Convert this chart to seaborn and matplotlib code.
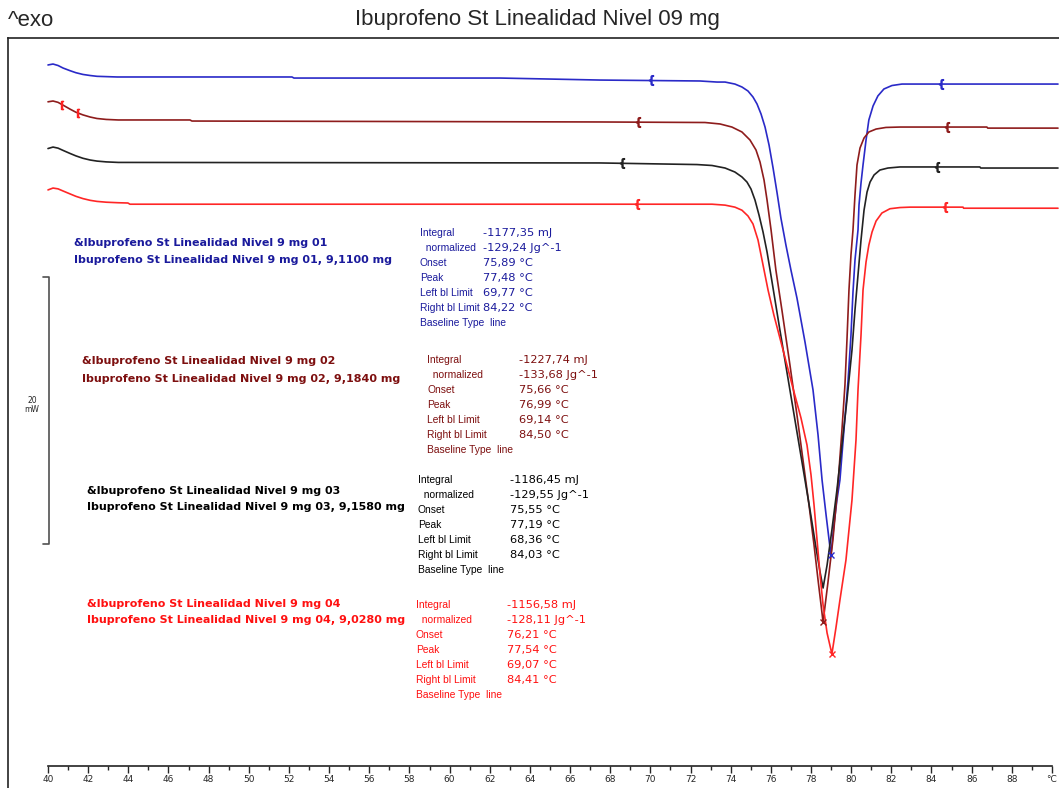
import numpy as np
import pandas as pd
import matplotlib
matplotlib.use("Agg")
import matplotlib.pyplot as plt
import seaborn as sns

# ---------------- data ----------------
# Temperature (°C) and heat flow (mW, with the instrument's display offsets)
blue_T = [40.00, 40.25, 40.50, 40.75, 41.10, 41.39, 41.74, 42.10, 42.44, 43.44, 52.15, 52.25,
          62.51, 67.49, 72.47, 73.32,
          73.72, 74.21, 74.56, 74.86, 75.11, 75.31, 75.51, 75.71, 75.91, 76.11, 76.31, 76.50,
          76.75, 77.00, 77.30, 77.70, 78.10, 78.35, 78.55, 78.75, 78.90, 78.99,
          79.14, 79.29, 79.44, 79.64, 79.84, 79.99, 80.09, 80.19, 80.34, 80.39, 80.49, 80.59,
          80.74, 80.88, 81.09, 81.33, 81.63, 82.03, 82.53, 90.30]
blue_mW = [54.16, 54.23, 54.12, 53.93, 53.73, 53.58, 53.45, 53.37, 53.31, 53.26, 53.26, 53.18,
           53.18, 53.03, 52.96, 52.88,
           52.88, 52.73, 52.51, 52.21, 51.76, 51.24, 50.49, 49.51, 48.16, 46.44, 44.57, 42.70,
           40.67, 38.80, 36.70, 33.41, 29.81, 26.44, 23.07, 20.45, 18.58, 17.45,
           19.70, 21.57, 23.07, 26.82, 30.41, 33.93, 37.15, 39.55, 41.80, 43.67, 45.32, 46.67,
           48.54, 50.04, 51.09, 51.84, 52.36, 52.62, 52.73, 52.73]

dred_T = [40.00, 40.25, 40.50, 40.75, 41.10, 41.39, 41.74, 42.10, 42.44, 42.90, 43.50, 47.07,
          47.17, 67.49, 72.72,
          73.47, 74.06, 74.56, 74.96, 75.26, 75.46, 75.66, 75.81, 76.01, 76.25, 76.55, 76.95,
          77.30, 77.60, 77.90, 78.15, 78.35, 78.50, 78.60,
          78.84, 79.09, 79.34, 79.54, 79.69, 79.79, 79.89, 79.99, 80.09, 80.19, 80.29, 80.44,
          80.64, 80.88, 81.24, 81.73, 82.43, 86.76, 86.80, 90.30]
dred_mW = [51.40, 51.46, 51.36, 51.15, 50.85, 50.62, 50.42, 50.26, 50.15, 50.08, 50.04, 50.04,
           49.96, 49.89, 49.85,
           49.74, 49.51, 49.14, 48.54, 47.79, 46.89, 45.54, 44.04, 41.80, 38.80, 35.81, 31.69,
           27.94, 24.57, 21.20, 18.20, 15.58, 13.71, 12.43,
           15.36, 18.58, 22.70, 26.82, 30.19, 33.56, 37.30, 39.93, 41.80, 44.42, 46.67, 47.94,
           48.69, 49.14, 49.36, 49.48, 49.51, 49.51, 49.43, 49.43]

black_T = [40.00, 40.25, 40.50, 40.75, 41.10, 41.39, 41.74, 42.10, 42.44, 42.90, 43.50, 67.49,
           72.32,
           73.07, 73.72, 74.21, 74.56, 74.81, 75.01, 75.21, 75.41, 75.61, 75.81, 76.06, 76.45,
           76.95, 77.45, 77.95, 78.25, 78.45, 78.60,
           78.80, 79.04, 79.29, 79.54, 79.79, 80.04, 80.19, 80.34, 80.49, 80.64, 80.79, 80.94,
           81.14, 81.43, 81.83, 82.43, 86.41, 86.45, 90.30]
black_mW = [47.90, 48.01, 47.93, 47.76, 47.53, 47.35, 47.17, 47.04, 46.96, 46.90, 46.86, 46.82,
            46.70,
            46.63, 46.44, 46.14, 45.77, 45.39, 44.87, 44.04, 42.92, 41.65, 40.15, 37.90, 34.31,
            29.81, 25.32, 20.82, 17.98, 16.18, 14.98,
            16.70, 19.33, 22.32, 25.69, 29.06, 32.81, 35.81, 38.43, 41.05, 43.28, 44.64, 45.39,
            45.92, 46.29, 46.44, 46.52, 46.52, 46.44, 46.44]

red_T = [40.00, 40.25, 40.50, 40.75, 41.10, 41.39, 41.74, 42.10, 42.44, 42.90, 43.50, 43.98,
         44.08, 67.49, 73.07,
         73.72, 74.21, 74.56, 74.86, 75.11, 75.36, 75.61, 75.86, 76.15, 76.45, 77.10, 77.50,
         77.80, 78.00, 78.15, 78.30, 78.45, 78.60, 78.80, 79.04,
         79.24, 79.44, 79.74, 80.04, 80.24, 80.34, 80.49, 80.59, 80.74, 80.88, 81.04, 81.24,
         81.53, 81.93, 82.43, 82.93, 85.57, 85.60, 90.30]
red_mW = [44.80, 44.94, 44.88, 44.72, 44.50, 44.32, 44.15, 44.02, 43.94, 43.88, 43.84, 43.82,
          43.73, 43.73, 43.73,
          43.66, 43.51, 43.28, 42.85, 42.25, 41.05, 39.18, 37.30, 35.43, 33.71, 29.96, 27.72,
          25.69, 23.45, 21.20, 18.58, 15.96, 13.71, 11.61, 10.04,
          11.99, 14.08, 17.08, 21.57, 26.07, 29.81, 33.93, 37.30, 39.40, 40.67, 41.65, 42.47,
          43.07, 43.39, 43.48, 43.51, 43.51, 43.43, 43.43]

runs = ["01", "02", "03", "04"]
curve_T = [blue_T, dred_T, black_T, red_T]
curve_mW = [blue_mW, dred_mW, black_mW, red_mW]
line_colors = ["#2a2ac8", "#8e1c1c", "#222222", "#ff2626"]
text_colors = ["#1a1a9c", "#7d0f0f", "#000000", "#ff1010"]

# baseline limit marks (T, mW) as drawn
limit_T = [[70.03, 84.47], [69.38, 84.77], [68.59, 84.27], [69.33, 84.67]]
limit_mW = [[53.03, 52.73], [49.89, 49.51], [46.82, 46.52], [43.73, 43.51]]
extra_mark_T = [40.70, 41.49]
extra_mark_mW = [51.16, 50.58]
# peak marks
peak_T = [78.99, 78.60, None, 79.04]
peak_mW = [17.45, 12.43, None, 10.04]

headers1 = ["&Ibuprofeno St Linealidad Nivel 9 mg 01", "&Ibuprofeno St Linealidad Nivel 9 mg 02",
            "&Ibuprofeno St Linealidad Nivel 9 mg 03", "&Ibuprofeno St Linealidad Nivel 9 mg 04"]
headers2 = ["Ibuprofeno St Linealidad Nivel 9 mg 01, 9,1100 mg",
            "Ibuprofeno St Linealidad Nivel 9 mg 02, 9,1840 mg",
            "Ibuprofeno St Linealidad Nivel 9 mg 03, 9,1580 mg",
            "Ibuprofeno St Linealidad Nivel 9 mg 04, 9,0280 mg"]
result_labels = ["Integral", "  normalized", "Onset", "Peak", "Left bl Limit",
                 "Right bl Limit", "Baseline Type  line"]
integral = ["-1177,35 mJ", "-1227,74 mJ", "-1186,45 mJ", "-1156,58 mJ"]
normalized = ["-129,24 Jg^-1", "-133,68 Jg^-1", "-129,55 Jg^-1", "-128,11 Jg^-1"]
onset = ["75,89 °C", "75,66 °C", "75,55 °C", "76,21 °C"]
peak = ["77,48 °C", "76,99 °C", "77,19 °C", "77,54 °C"]
left_lim = ["69,77 °C", "69,14 °C", "68,36 °C", "69,07 °C"]
right_lim = ["84,22 °C", "84,50 °C", "84,03 °C", "84,41 °C"]

x_ticks = list(range(40, 91, 2))
x_ticklabels = [str(v) for v in range(40, 90, 2)] + ["°C"]
x_minor = list(range(41, 90, 2))
scale_mW = 20
scale_top = 38.28

title = "Ibuprofeno St Linealidad Nivel 09 mg"

# ---------------- layout ----------------
W, H = 1059, 788
sns.set_style("white")
plt.rcParams["font.family"] = ["DejaVu Sans"]

fig = plt.figure(figsize=(W / 100, H / 100), dpi=100)
ax = fig.add_axes([8 / W, 0, 1 - 8 / W, (H - 38) / H])

df = pd.concat([pd.DataFrame({"T": t, "mW": m, "run": r})
                for t, m, r in zip(curve_T, curve_mW, runs)], ignore_index=True)
sns.lineplot(data=df, x="T", y="mW", hue="run", palette=dict(zip(runs, line_colors)),
             estimator=None, sort=False, legend=False, linewidth=1.2, ax=ax)

for i in range(4):
    ax.plot(limit_T[i], limit_mW[i], linestyle="none", marker=r"$\{$",
            markersize=7, color=line_colors[i])
    if peak_T[i] is not None:
        ax.plot([peak_T[i]], [peak_mW[i]], linestyle="none", marker="x",
                markersize=5, mew=1.0, color=line_colors[i])
ax.plot(extra_mark_T, extra_mark_mW, linestyle="none", marker=r"$[$", markersize=6,
        color="#ff2020")

# scale bar 20 mW
ax.plot([39.75, 40.05, 40.05, 39.75], [scale_top, scale_top, scale_top - scale_mW,
        scale_top - scale_mW], color="#505050", lw=1.2)
fig.text(32 / W, 1 - 405 / H, f"{scale_mW}\nmW", ha="center", va="center",
         fontsize=5.5, linespacing=1.0)

ax.set_xlim(38.008, 90.35)
ax.set_ylim(0, 56.18)
ax.set_yticks([])
ax.set_xlabel("")
ax.set_ylabel("")
ax.set_xticks(x_ticks)
ax.set_xticklabels(x_ticklabels)
ax.set_xticks(x_minor, minor=True)
ax.tick_params(axis="x", which="major", direction="out", length=5, width=1,
               labelsize=6.5, pad=1.5, bottom=True)
ax.tick_params(axis="x", which="minor", direction="out", length=3, width=1, bottom=True)
ax.spines["right"].set_visible(False)
ax.spines["bottom"].set_position(("axes", (H - 766) / (H - 38)))
ax.spines["bottom"].set_bounds(40, 90)
for s in ["left", "top", "bottom"]:
    ax.spines[s].set_color("#222222")
    ax.spines[s].set_linewidth(1.2)

fig.text(8 / W, 1 - 20 / H, "^exo", ha="left", va="center", fontsize=16,
         family="Liberation Sans")
fig.text(537 / W, 1 - 20 / H, title, ha="center", va="center", fontsize=16,
         family="Liberation Sans")

hdr_pos = [(74, 243, 260), (82, 361, 379), (87, 491, 507), (87, 604, 620)]
res_pos = [(420, 483, 233), (427, 519, 360), (418, 510, 480), (416, 507, 605)]
for i in range(4):
    hx, hy1, hy2 = hdr_pos[i]
    fig.text(hx / W, 1 - hy1 / H, headers1[i], ha="left", va="center", fontsize=8,
             weight="bold", color=text_colors[i])
    fig.text(hx / W, 1 - hy2 / H, headers2[i], ha="left", va="center", fontsize=8,
             weight="bold", color=text_colors[i])
    lx, vx, y0 = res_pos[i]
    vals = [integral[i], normalized[i], onset[i], peak[i], left_lim[i], right_lim[i], ""]
    for k, (lab, val) in enumerate(zip(result_labels, vals)):
        yy = 1 - (y0 + 15 * k) / H
        fig.text(lx / W, yy, lab, ha="left", va="center", fontsize=7.4,
                 family="Liberation Sans", color=text_colors[i])
        if val:
            fig.text(vx / W, yy, val, ha="left", va="center", fontsize=8.2,
                     color=text_colors[i])

fig.savefig("out.png", dpi=100)
